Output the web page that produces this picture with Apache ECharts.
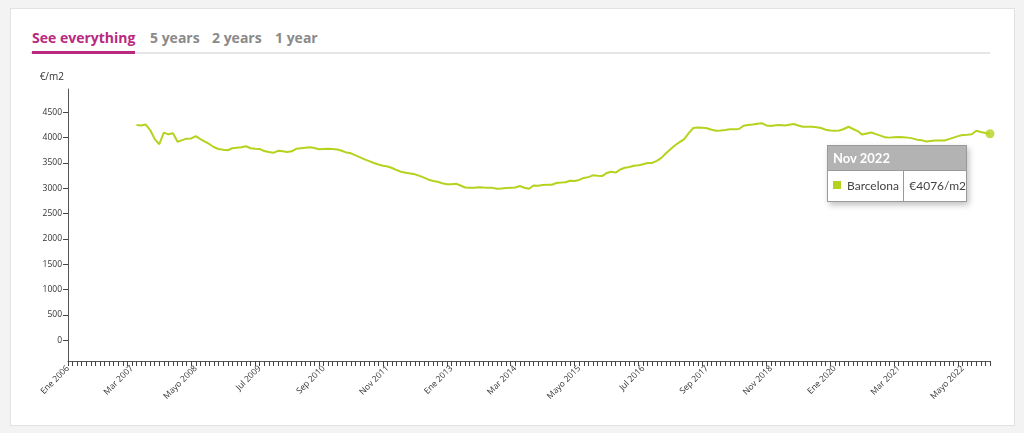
<!DOCTYPE html>
<html>
<head>
<meta charset="utf-8">
<script src="https://cdn.jsdelivr.net/npm/echarts@6/dist/echarts.min.js"></script>
<style>
html,body{margin:0;padding:0;width:1024px;height:433px;background:#f3f3f3;overflow:hidden;font-family:"Open Sans","Noto Sans",sans-serif;}
#card{position:absolute;left:10px;top:8px;width:1003px;height:416px;background:#fff;border:1px solid #e2e2e2;}
#tabs{position:absolute;left:30px;top:28px;width:960px;height:24px;border-bottom:2px solid #e6e6e6;}
.tab{position:absolute;top:0;font-size:14px;font-weight:700;color:#8a8a8a;line-height:20px;white-space:nowrap;}
.tab.active{color:#b8297f;}
#bar{position:absolute;left:2px;top:23px;width:103px;height:3px;background:#b8297f;}
#chart{position:absolute;left:0;top:0;width:1024px;height:433px;}
</style>
</head>
<body>
<div id="card"></div>
<div id="tabs">
  <div class="tab active" style="left:2px">See everything</div>
  <div class="tab" style="left:120px">5 years</div>
  <div class="tab" style="left:182px">2 years</div>
  <div class="tab" style="left:245px">1 year</div>
  <div id="bar"></div>
</div>
<div id="chart"></div>
<script>
// ---- data ----
const monthNames = ["Ene","Feb","Mar","Abr","Mayo","Jun","Jul","Ago","Sep","Oct","Nov","Dic"];
const startYear = 2006;
const endYear = 2022;
const endMonth = 10; // Nov
const seriesName = "Barcelona";
const firstDataIndex = 15; // Abr 2007
const prices = [
 4250,4240,4260,4150,3970,3870,4100,4065,4085,3920,
 3950,3980,3985,4030,3970,3920,3870,3810,3775,3760,
 3750,3790,3800,3810,3830,3790,3780,3775,3735,3715,
 3700,3740,3730,3715,3730,3780,3790,3800,3810,3795,
 3770,3775,3780,3775,3765,3740,3705,3690,3650,3610,
 3570,3535,3500,3470,3445,3430,3400,3360,3325,3305,
 3290,3275,3245,3210,3170,3145,3130,3100,3080,3080,
 3090,3055,3015,3010,3010,3020,3015,3012,3008,2990,
 2995,3005,3010,3015,3045,3010,2990,3055,3050,3065,
 3068,3070,3105,3112,3120,3150,3145,3165,3205,3220,
 3255,3245,3240,3300,3325,3310,3370,3405,3420,3445,
 3455,3475,3500,3500,3540,3600,3690,3770,3850,3910,
 3970,4090,4190,4200,4195,4185,4155,4135,4140,4150,
 4165,4165,4170,4235,4250,4260,4275,4285,4240,4230,
 4245,4250,4240,4255,4270,4240,4215,4215,4215,4205,
 4190,4155,4140,4135,4140,4170,4215,4170,4130,4060,
 4080,4100,4070,4040,4005,4000,4008,4010,4005,4000,
 3985,3960,3950,3925,3935,3945,3945,3945,3970,4000,
 4030,4050,4055,4065,4135,4110,4090,4076
];
const yTicks = [0,500,1000,1500,2000,2500,3000,3500,4000,4500];

// ---- build ----
const categories = [];
for (let y = startYear; y <= endYear; y++) {
  for (let m = 0; m < 12; m++) {
    if (y === endYear && m > endMonth) break;
    categories.push(monthNames[m] + " " + y);
  }
}
const lineData = categories.map((c, i) => (i >= firstDataIndex && i - firstDataIndex < prices.length) ? prices[i - firstDataIndex] : null);
const lastIdx = firstDataIndex + prices.length - 1;
const lastPoint = [[categories[lastIdx], prices[prices.length - 1]]];
const lime = "#b5d31e";
const font = '"Open Sans","Noto Sans",sans-serif';
const tipFont = "Lato,'Open Sans',sans-serif";

const chart = echarts.init(document.getElementById('chart'), null, {renderer: 'canvas'});
chart.setOption({
  animation: false,
  grid: {left: 68, right: 34, top: 89, bottom: 72},
  tooltip: {
    trigger: 'item',
    alwaysShowContent: true,
    padding: 0,
    borderWidth: 0,
    backgroundColor: 'transparent',
    extraCssText: 'box-shadow:2px 3px 6px rgba(0,0,0,0.25);border-radius:0;',
    position: function (pt) { return [pt[0] - 163, pt[1] + 11]; },
    formatter: function (p) {
      const mm = p.value[0];
      return '<div style="width:138px;border:1px solid #9a9a9a;background:#fff;font-family:' + tipFont + ';">' +
        '<div style="background:#b3b3b3;color:#fff;font-weight:700;font-size:13px;height:24px;line-height:24px;padding-left:5px;">' + mm + '</div>' +
        '<div style="display:flex;height:30px;line-height:30px;font-size:12px;color:#444;border-top:1px solid #9a9a9a;">' +
        '<div style="width:72px;border-right:1px solid #9a9a9a;padding-left:5px;white-space:nowrap;"><span style="display:inline-block;width:8px;height:8px;background:' + lime + ';margin-right:6px;vertical-align:1px;"></span>' + p.seriesName + '</div>' +
        '<div style="padding-left:5px;white-space:nowrap;">€' + p.value[1] + '/m2</div></div></div>';
    }
  },
  xAxis: {
    type: 'category',
    data: categories,
    boundaryGap: false,
    axisLine: {onZero: false, lineStyle: {color: '#555', width: 1}},
    axisTick: {show: true, interval: 0, length: 5, lineStyle: {color: '#444'}},
    axisLabel: {interval: 13, rotate: 45, fontSize: 8.5, color: '#333', fontFamily: font, margin: 6},
    splitLine: {show: false}
  },
  yAxis: {
    type: 'value',
    min: -410,
    max: 4960,
    name: '€/m2',
    nameLocation: 'end',
    nameGap: 7,
    nameTextStyle: {align: 'right', padding: [0, 4, 0, 0], fontSize: 10, color: '#333', fontFamily: font},
    axisLine: {show: true, lineStyle: {color: '#555', width: 1}},
    axisTick: {show: true, length: 5, customValues: yTicks, lineStyle: {color: '#444'}},
    axisLabel: {customValues: yTicks, formatter: function (v) { return String(v); }, fontSize: 8.5, color: '#333', fontFamily: font, margin: 6},
    splitLine: {show: false}
  },
  series: [
    {
      name: seriesName,
      type: 'line',
      data: lineData,
      showSymbol: false,
      connectNulls: false,
      lineStyle: {color: lime, width: 2},
      itemStyle: {color: lime},
      silent: true
    },
    {
      name: seriesName,
      type: 'scatter',
      data: lastPoint,
      symbol: 'circle',
      symbolSize: 9,
      itemStyle: {color: lime}
    }
  ]
});
chart.dispatchAction({type: 'showTip', seriesIndex: 1, dataIndex: 0});
</script>
</body>
</html>
